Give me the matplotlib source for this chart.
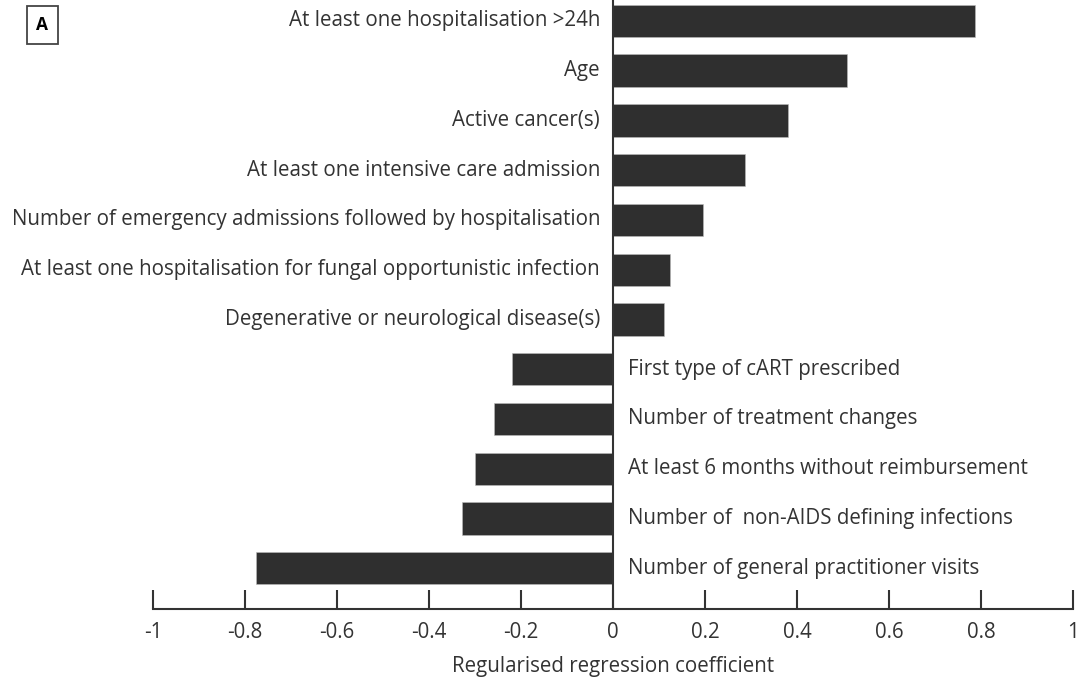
import matplotlib
matplotlib.use("Agg")
import matplotlib.pyplot as plt

labels = [
    "At least one hospitalisation >24h",
    "Age",
    "Active cancer(s)",
    "At least one intensive care admission",
    "Number of emergency admissions followed by hospitalisation",
    "At least one hospitalisation for fungal opportunistic infection",
    "Degenerative or neurological disease(s)",
    "First type of cART prescribed",
    "Number of treatment changes",
    "At least 6 months without reimbursement",
    "Number of  non-AIDS defining infections",
    "Number of general practitioner visits",
]
values = [0.787, 0.508, 0.380, 0.286, 0.196, 0.124, 0.110,
          -0.220, -0.258, -0.301, -0.329, -0.777]
xticks = [-1, -0.8, -0.6, -0.4, -0.2, 0, 0.2, 0.4, 0.6, 0.8, 1]
xticklabels = ["-1", "-0.8", "-0.6", "-0.4", "-0.2", "0", "0.2", "0.4", "0.6", "0.8", "1"]

plt.rcParams['font.family'] = ['Open Sans', 'DejaVu Sans']
W, H = 1083, 681
fig = plt.figure(figsize=(W/100, H/100), dpi=100)
ax = fig.add_axes([153/W, (H-609)/H, (1073-153)/W, 609/H])

FS = 14.8
n = len(values)
ypos = list(range(n))
ax.barh(ypos, values, height=0.65, color="#2f2f2f", edgecolor="#bbbbbb", linewidth=0.4, zorder=2)
ax.set_ylim(n - 1 + 0.82, -0.42)
ax.set_xlim(-1, 1)
ax.axvline(0, color="#333333", linewidth=1.5, zorder=3)

txt_color = "#333333"
for y, v, lab in zip(ypos, values, labels):
    if v >= 0:
        ax.text(-0.028, y, lab, ha="right", va="center", fontsize=FS, color=txt_color)
    else:
        ax.text(0.033, y, lab, ha="left", va="center", fontsize=FS, color=txt_color)

for s in ["top", "right", "left"]:
    ax.spines[s].set_visible(False)
ax.spines["bottom"].set_linewidth(1.5)
ax.spines["bottom"].set_color("#333333")
ax.set_yticks([])
ax.set_xticks(xticks)
ax.set_xticklabels(xticklabels, fontsize=FS, color=txt_color)
ax.tick_params(axis="x", direction="in", length=14, width=1.5, color="#333333", pad=9)
ax.set_xlabel("Regularised regression coefficient", fontsize=FS, color=txt_color, labelpad=10)

fig.text(42.5/W, 1 - 25/H, "A", fontsize=12.5, fontweight="bold", ha="center", va="center",
         bbox=dict(boxstyle="square,pad=0.55", facecolor="white", edgecolor="#444444", linewidth=1.3))

fig.savefig("out.png", dpi=100)
